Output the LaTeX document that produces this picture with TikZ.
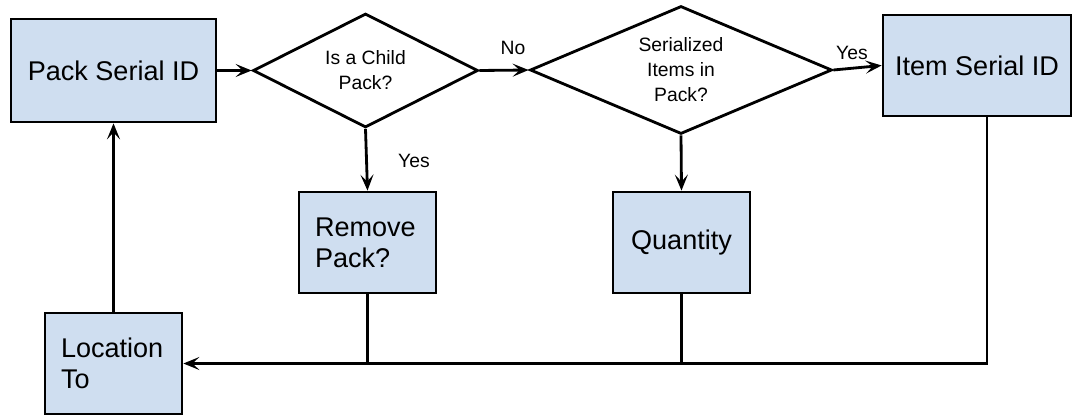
\documentclass[tikz,border=0pt]{standalone}
\usepackage{fontspec}
\setmainfont{Liberation Sans}
\usetikzlibrary{shapes.geometric, arrows.meta}
\definecolor{boxblue}{RGB}{207,222,240}

\begin{document}
\begin{tikzpicture}[x=0.02cm, y=-0.02cm,
  box/.style={draw, line width=1.6pt, fill=boxblue, inner sep=0pt, font=\fontsize{15.4}{17.8}\selectfont},
  ask/.style={draw, line width=1.6pt, diamond, inner sep=0pt, align=center, font=\fontsize{11}{14.2}\selectfont},
  tag/.style={font=\fontsize{11}{13}\selectfont},
  arr/.style={line width=1.6pt, -{Stealth[length=0.32cm, width=0.26cm, inset=0.14cm]}},
  wire/.style={line width=1.6pt}]
\useasboundingbox (0,0) rectangle (1081,415);
\node[box, minimum width=4.1cm, minimum height=2.06cm] (pack) at (113.5,70.5) {Pack Serial ID};
\node[ask, minimum width=4.5cm, minimum height=2.28cm, shape aspect=1.97] (child) at (365.5,70.5) {Is a Child\\Pack?};
\node[ask, minimum width=6.04cm, minimum height=2.56cm, shape aspect=2.36] (serial) at (681,70) {Serialized\\Items in\\Pack?};
\node[box, minimum width=3.76cm, minimum height=2.02cm] (item) at (977,65.5) {Item Serial ID};
\node[box, minimum width=2.74cm, minimum height=2.02cm, text width=2.1cm, align=left] (remove) at (367.5,242.5) {Remove\\Pack?};
\node[box, minimum width=2.74cm, minimum height=2.02cm] (quantity) at (681.5,242.5) {Quantity};
\node[box, minimum width=2.74cm, minimum height=2.02cm, text width=2.1cm, align=left] (loc) at (113.5,363.5) {Location\\To};
\node[tag] (no) at (513,48) {No};
\node[tag] (yesdown) at (414,161) {Yes};
\node[tag] (yesright) at (852,53) {Yes};
\draw[arr] (pack.east) -- (child.west);
\draw[arr] (child.east) -- (serial.west);
\draw[arr] (serial.east) -- (item.west);
\draw[arr] (child.south) -- (remove.north);
\draw[arr] (serial.south) -- (quantity.north);
\draw[arr] ([xshift=0.2cm]item.south) |- (loc.east);
\draw[wire] (remove) -- (remove |- loc.east);
\draw[wire] (quantity) -- (quantity |- loc.east);
\draw[arr] (loc.north) -- (pack.south);
\end{tikzpicture}
\end{document}
